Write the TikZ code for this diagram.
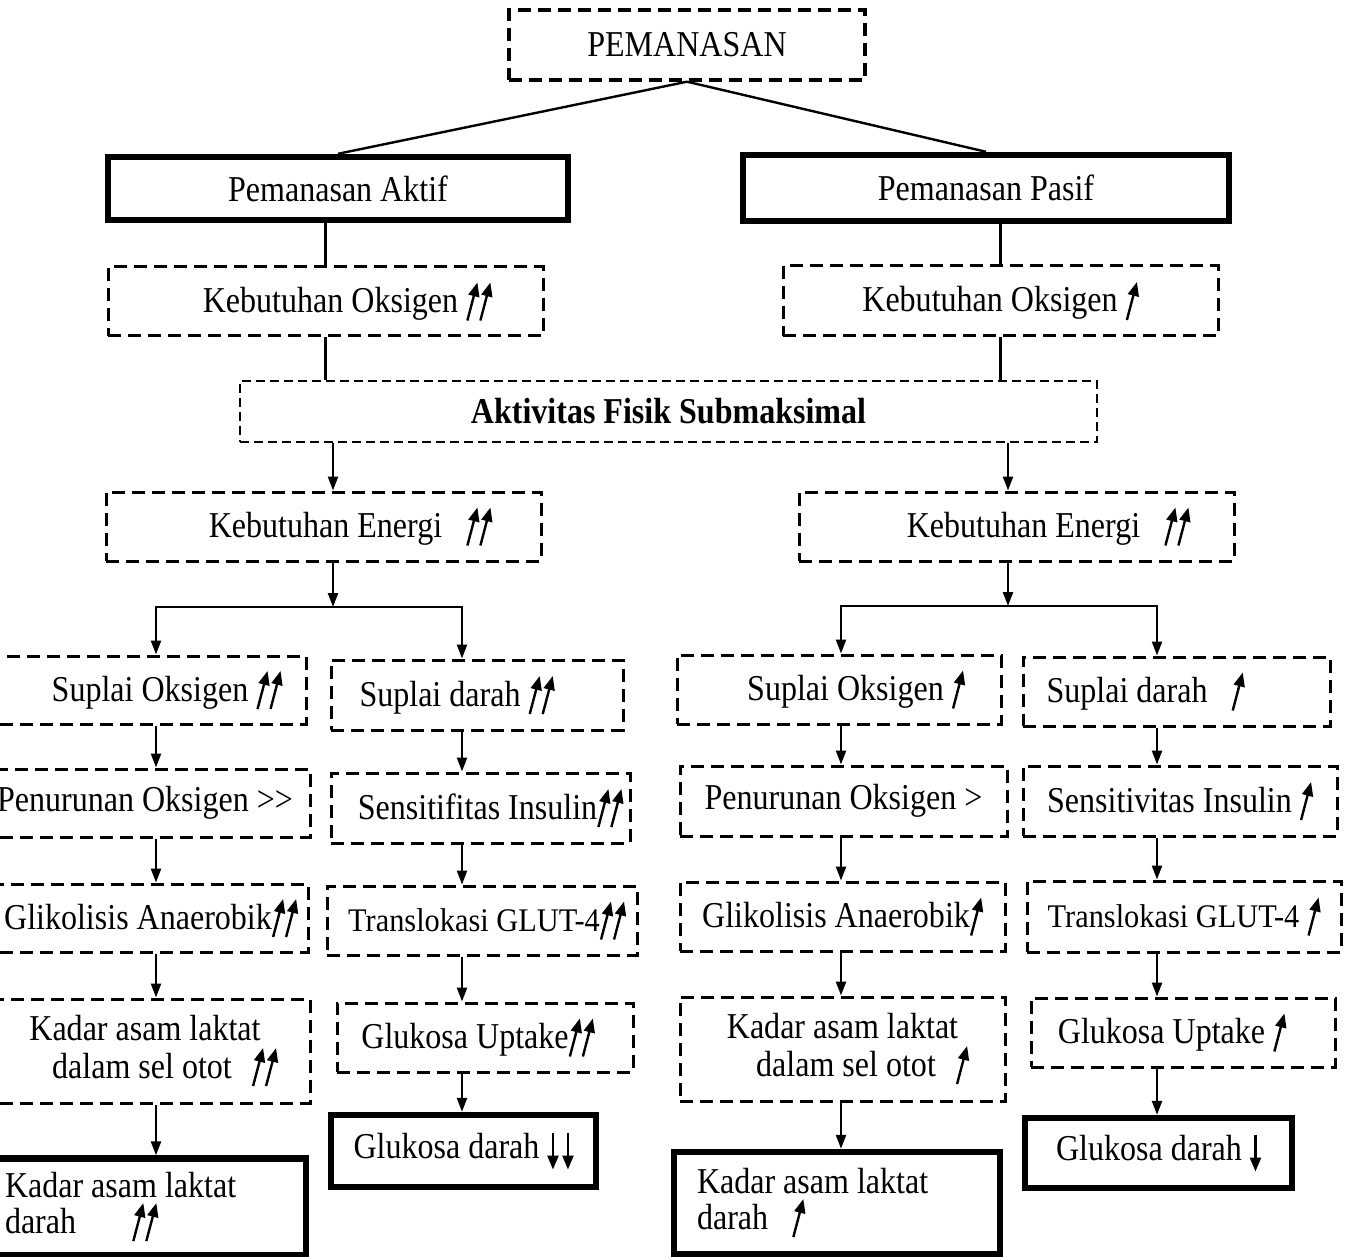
\documentclass[tikz,border=0pt]{standalone}
\usepackage{fontspec}
\setmainfont{Liberation Serif}[FakeStretch=0.88]
\newfontfamily\lebar{Liberation Serif}[FakeStretch=0.92]
\usetikzlibrary{arrows.meta}

\newcommand{\naik}{\tikz[baseline=0pt,x=0.5pt,y=0.5pt]\draw[solid,black,line width=1.2pt,-{Triangle[length=7pt,width=5.5pt]}] (0,-8) -- (10,30);}
\newcommand{\naikdua}{\tikz[baseline=0pt,x=0.5pt,y=0.5pt]{\draw[solid,black,line width=1.2pt,-{Triangle[length=7pt,width=5.5pt]}] (0,-8) -- (10,30); \draw[solid,black,line width=1.2pt,-{Triangle[length=7pt,width=5.5pt]}] (13,-8) -- (23,30);}}
\newcommand{\turun}{\tikz[baseline=0pt,x=0.5pt,y=0.5pt]\draw[solid,black,line width=1.2pt,-{Triangle[length=7pt,width=5.5pt]}] (0,26) -- (0,-11);}
\newcommand{\turundua}{\tikz[baseline=0pt,x=0.5pt,y=0.5pt]{\draw[solid,black,line width=1.2pt,-{Triangle[length=7pt,width=5.5pt]}] (0,26) -- (0,-11); \draw[solid,black,line width=1.2pt,-{Triangle[length=7pt,width=5.5pt]}] (15,26) -- (15,-11);}}

\begin{document}
\begin{tikzpicture}[x=0.5pt,y=-0.5pt,
    kotak/.style={draw, dash pattern=on 6.5pt off 3.5pt, line width=1.5pt, inner sep=1pt, font=\fontsize{18.2}{18}\selectfont},
    kotaktebal/.style={draw, line width=3.2pt, inner sep=1pt, font=\fontsize{18.2}{18}\selectfont},
    garis/.style={line width=1.2pt},
    panah/.style={garis, -{Triangle[length=7pt,width=5pt]}}]
\useasboundingbox (0,0) rectangle (1352,1256);

\node[kotak, line width=1.7pt, minimum width=178pt, minimum height=35pt] (pemanasan) at (687,45) {PEMANASAN};
\node[kotaktebal, minimum width=230pt, minimum height=31.5pt] (aktif) at (338,188.5) {Pemanasan Aktif};
\node[kotaktebal, minimum width=243pt, minimum height=33pt] (pasif) at (986,188) {Pemanasan Pasif};
\node[kotak, minimum width=217.5pt, minimum height=34.5pt] (koL) at (325.5,301.5) {\hspace*{22pt}Kebutuhan Oksigen \naikdua};
\node[kotak, minimum width=217.5pt, minimum height=35pt] (koR) at (1000.5,301) {Kebutuhan Oksigen \naik};
\node[kotak, line width=1pt, dash pattern=on 4.5pt off 2.5pt, minimum width=428.5pt, minimum height=30.5pt] (afs) at (668.5,411.5) {\bfseries Aktivitas Fisik Submaksimal};
\node[kotak, minimum width=217.5pt, minimum height=34.5pt] (keL) at (323.5,526.5) {\hspace*{27pt}Kebutuhan Energi\hspace*{8pt} \naikdua};
\node[kotak, minimum width=217.5pt, minimum height=34.5pt] (keR) at (1016.5,526.5) {\hspace*{32pt}Kebutuhan Energi\hspace*{8pt} \naikdua};
\coordinate (batangL) at (333,607);
\coordinate (batangR) at (1008,606);
\coordinate (kolA) at (156,0);
\coordinate (kolB) at (462,0);
\coordinate (kolC) at (841,0);
\coordinate (kolD) at (1157,0);

\node[kotak, minimum width=163pt, minimum height=34pt] (soA) at (143,690) {\hspace*{24pt}Suplai Oksigen \naikdua};
\node[kotak, minimum width=165pt, minimum height=34pt] (poA) at (145,803) {Penurunan Oksigen >\kern0pt>};
\node[kotak, minimum width=164pt, minimum height=34pt] (gaA) at (144,918) {\hspace*{7pt}Glikolisis Anaerobik\naikdua};
\node[kotak, align=center, minimum width=165pt, minimum height=52pt] (kalA) at (145,1051) {Kadar asam laktat\\[1pt]\hspace*{20pt}dalam sel otot\hspace*{6pt} \naikdua};
\node[kotaktebal, align=flush left, inner xsep=12.5pt, text width=138pt, minimum height=48.5pt] (kaldA) at (143,1207) {Kadar asam laktat\\darah\hspace*{28pt}\naikdua};

\node[kotak, minimum width=146pt, minimum height=35pt] (sdB) at (477,695) {Suplai darah \naikdua\hspace*{20pt}};
\node[kotak, minimum width=149.5pt, minimum height=35pt] (siB) at (480.5,808) {\hspace*{10pt}Sensitifitas Insulin\naikdua};
\node[kotak, minimum width=155pt, minimum height=34.5pt] (tgB) at (482,920.5) {\hspace*{5pt}{\lebar\fontsize{16.5}{18}\selectfont Translokasi GLUT-4}\naikdua};
\node[kotak, minimum width=148pt, minimum height=34.5pt] (guB) at (485,1037.5) {Glukosa Uptake\naikdua\hspace*{7pt}};
\node[kotaktebal, minimum width=132.5pt, minimum height=36pt] (gdB) at (463.5,1151) {Glukosa darah \turundua};

\node[kotak, minimum width=162pt, minimum height=34.5pt] (soC) at (839,689.5) {\hspace*{17pt}Suplai Oksigen \naik};
\node[kotak, minimum width=163.5pt, minimum height=35pt] (poC) at (843.5,801) {Penurunan Oksigen >};
\node[kotak, minimum width=162.5pt, minimum height=34.5pt] (gaC) at (842.5,916.5) {Glikolisis Anaerobik\naik};
\node[kotak, align=center, minimum width=162.5pt, minimum height=52pt] (kalC) at (842.5,1049) {Kadar asam laktat\\[1pt]\hspace*{20pt}dalam sel otot\hspace*{6pt} \naik};
\node[kotaktebal, align=flush left, inner xsep=11.5pt, text width=140pt, minimum height=51pt] (kaldC) at (837,1203) {Kadar asam laktat\\darah\hspace*{8pt} \naik};

\node[kotak, minimum width=153.5pt, minimum height=34.5pt] (sdD) at (1176.5,691.5) {Suplai darah\hspace*{8pt} \naik\hspace*{31pt}};
\node[kotak, minimum width=157pt, minimum height=35pt] (siD) at (1180,801) {Sensitivitas Insulin \naik};
\node[kotak, minimum width=157pt, minimum height=35.5pt] (tgD) at (1184,916.5) {{\lebar\fontsize{16.5}{18}\selectfont Translokasi GLUT-4} \naik};
\node[kotak, minimum width=152pt, minimum height=34.5pt] (guD) at (1183,1032.5) {Glukosa Uptake \naik\hspace*{11pt}};
\node[kotaktebal, minimum width=133.5pt, minimum height=35pt] (gdD) at (1158.5,1153) {Glukosa darah \turun};

\draw[garis] (pemanasan.south) -- (aktif.north);
\draw[garis] (pemanasan.south) -- (pasif.north);
\draw[garis] (aktif.south -| koL) -- (koL.north);
\draw[garis] (pasif.south -| koR) -- (koR.north);
\draw[garis] (koL.south) -- (koL.south |- afs.north);
\draw[garis] (koR.south) -- (koR.south |- afs.north);
\draw[panah] (afs.south -| batangL) -- (keL.north -| batangL);
\draw[panah] (afs.south -| batangR) -- (keR.north -| batangR);
\draw[panah] (keL.south -| batangL) -- (batangL);
\draw[panah] (keR.south -| batangR) -- (batangR);
\draw[panah] (batangL) -| (soA.north -| kolA);
\draw[panah] (batangL) -| (sdB.north -| kolB);
\draw[panah] (batangR) -| (soC.north -| kolC);
\draw[panah] (batangR) -| (sdD.north -| kolD);

\draw[panah] (soA.south -| kolA) -- (poA.north -| kolA);
\draw[panah] (poA.south -| kolA) -- (gaA.north -| kolA);
\draw[panah] (gaA.south -| kolA) -- (kalA.north -| kolA);
\draw[panah] (kalA.south -| kolA) -- (kaldA.north -| kolA);
\draw[panah] (sdB.south -| kolB) -- (siB.north -| kolB);
\draw[panah] (siB.south -| kolB) -- (tgB.north -| kolB);
\draw[panah] (tgB.south -| kolB) -- (guB.north -| kolB);
\draw[panah] (guB.south -| kolB) -- (gdB.north -| kolB);
\draw[panah] (soC.south -| kolC) -- (poC.north -| kolC);
\draw[panah] (poC.south -| kolC) -- (gaC.north -| kolC);
\draw[panah] (gaC.south -| kolC) -- (kalC.north -| kolC);
\draw[panah] (kalC.south -| kolC) -- (kaldC.north -| kolC);
\draw[panah] (sdD.south -| kolD) -- (siD.north -| kolD);
\draw[panah] (siD.south -| kolD) -- (tgD.north -| kolD);
\draw[panah] (tgD.south -| kolD) -- (guD.north -| kolD);
\draw[panah] (guD.south -| kolD) -- (gdD.north -| kolD);
\end{tikzpicture}
\end{document}
